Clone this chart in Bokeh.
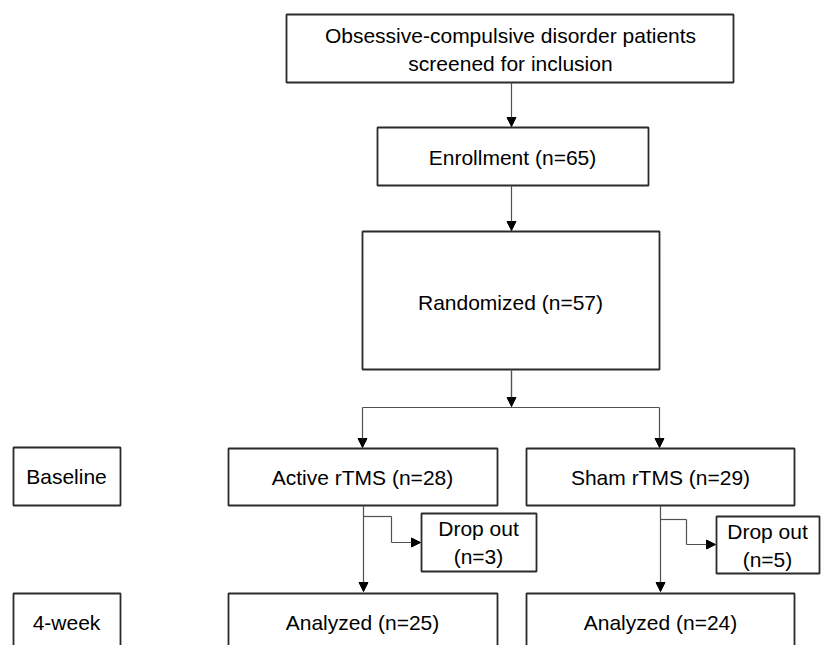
from bokeh.plotting import figure
from bokeh.models import Range1d, Arrow, NormalHead, ColumnDataSource
from bokeh.core.properties import value
from bokeh.embed import file_html
from bokeh.resources import INLINE

# ---- data ----
screen_label = "Obsessive-compulsive disorder patients\nscreened for inclusion"
enrolled_n = 65
randomized_n = 57
group_names = ["Active rTMS", "Sham rTMS"]
baseline_n = [28, 29]
dropout_n = [3, 5]
analyzed_n = [25, 24]
stage_labels = ["Baseline", "4-week"]

# ---- layout (screen pixel coordinates) ----
W, H = 823, 645
p = figure(width=W, height=H, output_backend="svg", toolbar_location=None,
           x_range=Range1d(0, W), y_range=Range1d(H, 0), min_border=0)
p.axis.visible = False
p.grid.visible = False
p.outline_line_color = None
p.background_fill_color = "white"

FONT = value("Liberation Sans")
BOX_LINE = "#2a2a2a"
CONN = "#505050"

boxes = [
    # (left, right, top, bottom, text, cx, cy)
    (286, 733, 14, 82, screen_label, 510, 49),
    (377, 648, 127, 185, f"Enrollment (n={enrolled_n})", 512, 157),
    (362, 659, 231, 369, f"Randomized (n={randomized_n})", 510, 302),
    (13, 120, 447, 505, stage_labels[0], 66, 476),
    (228, 497, 448, 505, f"{group_names[0]} (n={baseline_n[0]})", 362, 477),
    (526, 794, 448, 505, f"{group_names[1]} (n={baseline_n[1]})", 660, 477),
    (421, 536, 513, 571, f"Drop out\n(n={dropout_n[0]})", 478, 542),
    (716, 819, 516, 573, f"Drop out\n(n={dropout_n[1]})", 767, 545),
    (13, 120, 593, 655, stage_labels[1], 66, 622),
    (228, 497, 593, 655, f"Analyzed (n={analyzed_n[0]})", 362, 622),
    (526, 794, 593, 655, f"Analyzed (n={analyzed_n[1]})", 660, 622),
]

src = ColumnDataSource(dict(
    left=[b[0] for b in boxes], right=[b[1] for b in boxes],
    top=[b[2] for b in boxes], bottom=[b[3] for b in boxes],
    text=[b[4] for b in boxes], cx=[b[5] for b in boxes], cy=[b[6] for b in boxes],
))

# plain connector segments
segs = [
    (511, 369, 511, 407),
    (362, 407, 659, 407),
    (363, 516, 391, 516), (391, 516, 391, 542),
    (660, 519, 686, 519), (686, 519, 686, 544),
]
p.segment(x0=[s[0] for s in segs], y0=[s[1] for s in segs],
          x1=[s[2] for s in segs], y1=[s[3] for s in segs],
          line_color=CONN, line_width=1.2)

# arrows
arrows = [
    (511, 82, 511, 126),
    (511, 185, 511, 230),
    (511, 369, 511, 406),
    (362, 407, 362, 447),
    (659, 407, 659, 447),
    (363, 505, 363, 591),
    (660, 505, 660, 591),
    (391, 542, 420, 542),
    (686, 544, 715, 544),
]
for (x0, y0, x1, y1) in arrows:
    p.add_layout(Arrow(end=NormalHead(size=9, fill_color="black", line_color="black", line_width=1),
                       x_start=x0, y_start=y0, x_end=x1, y_end=y1,
                       line_color=CONN, line_width=1.2))

p.quad(left="left", right="right", top="top", bottom="bottom", source=src,
       fill_color="white", line_color=BOX_LINE, line_width=1.8)

p.text(x="cx", y="cy", text="text", source=src, text_font=FONT, text_font_size="21px",
       text_align="center", text_baseline="middle", text_color="black", text_line_height=1.25)

open("out.html", "w").write(file_html(p, INLINE))
